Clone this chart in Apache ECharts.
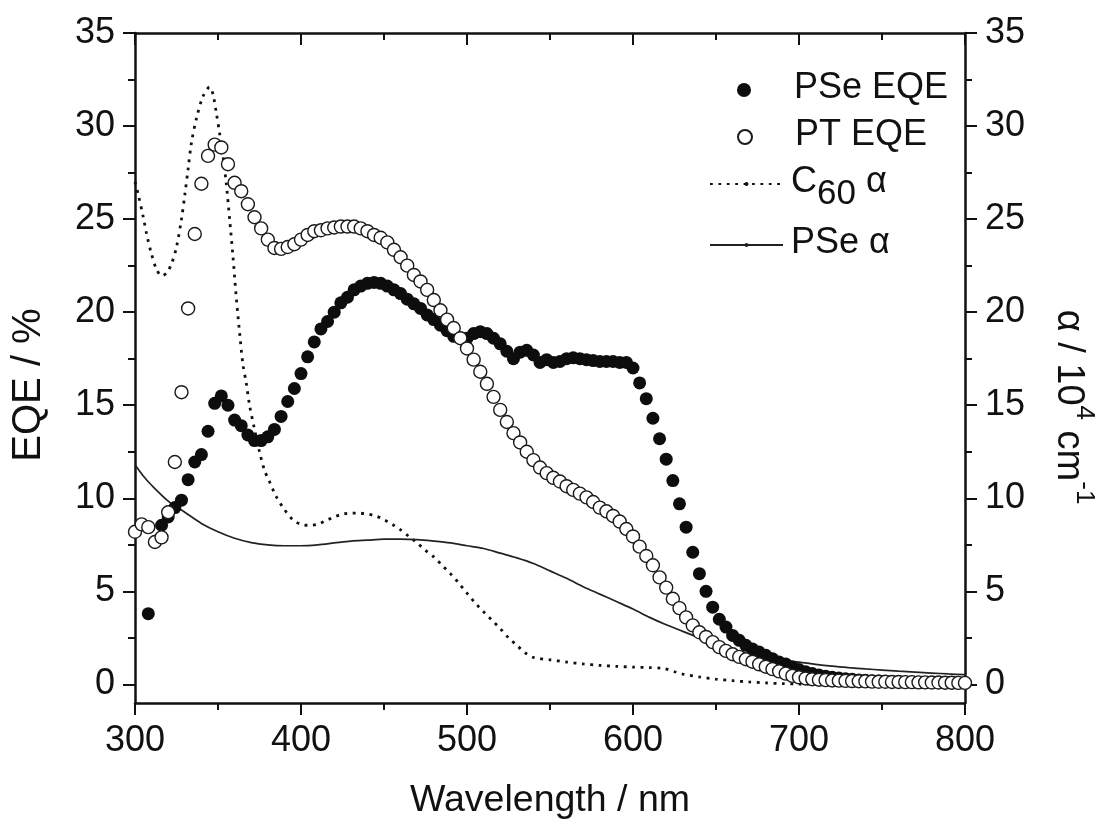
<!DOCTYPE html>
<html>
<head>
<meta charset="utf-8">
<script src="https://cdn.jsdelivr.net/npm/echarts@6/dist/echarts.min.js"></script>
<style>
  html, body { margin: 0; padding: 0; background: #fff; }
  #main { width: 1103px; height: 827px; }
</style>
</head>
<body>
<div id="main"></div>
<script>
// EQE data, filled circles (PSe)
var pseWl = [308,316,320,324,328,332,336,340,344,348,352,356,360,364,368,372,376,380,384,388,392,396,400,404,408,412,416,420,424,428,432,436,440,444,448,452,456,460,464,468,472,476,480,484,488,492,496,500,504,508,512,516,520,524,528,532,536,540,544,548,552,556,560,564,568,572,576,580,584,588,592,596,600,604,608,612,616,620,624,628,632,636,640,644,648,652,656,660,664,668,672,676,680,684,688,692,696,700,704,708,712,716,720,724,728,732,736,740,744,748,752,756,760,764,768,772,776,780,784,788,792,796,800];
var pseEqe = [3.8,8.55,9.0,9.5,9.9,11.0,11.95,12.35,13.6,15.1,15.5,15.0,14.2,13.9,13.4,13.1,13.1,13.3,13.7,14.4,15.2,15.9,16.7,17.6,18.4,19.1,19.5,20.0,20.5,20.8,21.2,21.4,21.55,21.6,21.55,21.4,21.2,21.0,20.7,20.45,20.2,19.85,19.6,19.3,19.0,18.7,18.6,18.6,18.85,18.95,18.85,18.6,18.3,17.9,17.5,17.85,17.95,17.7,17.3,17.45,17.3,17.35,17.5,17.55,17.5,17.45,17.4,17.35,17.35,17.35,17.3,17.3,17.0,16.2,15.35,14.3,13.2,12.1,10.95,9.7,8.45,7.1,5.95,5.0,4.15,3.5,3.08,2.63,2.37,2.1,1.9,1.74,1.56,1.38,1.2,1.1,0.93,0.8,0.68,0.58,0.5,0.44,0.38,0.34,0.3,0.27,0.24,0.22,0.2,0.18,0.16,0.15,0.14,0.13,0.12,0.11,0.1,0.1,0.09,0.09,0.08,0.08,0.07];

// EQE data, open circles (PT)
var ptWl = [300,304,308,312,316,320,324,328,332,336,340,344,348,352,356,360,364,368,372,376,380,384,388,392,396,400,404,408,412,416,420,424,428,432,436,440,444,448,452,456,460,464,468,472,476,480,484,488,492,496,500,504,508,512,516,520,524,528,532,536,540,544,548,552,556,560,564,568,572,576,580,584,588,592,596,600,604,608,612,616,620,624,628,632,636,640,644,648,652,656,660,664,668,672,676,680,684,688,692,696,700,704,708,712,716,720,724,728,732,736,740,744,748,752,756,760,764,768,772,776,780,784,788,792,796,800];
var ptEqe = [8.2,8.6,8.45,7.65,7.9,9.25,11.95,15.7,20.2,24.2,26.9,28.4,29.0,28.85,27.95,26.95,26.5,25.8,25.1,24.5,23.9,23.45,23.4,23.5,23.65,23.9,24.15,24.35,24.4,24.5,24.55,24.6,24.6,24.6,24.5,24.35,24.15,24.0,23.75,23.35,22.95,22.5,22.0,21.65,21.2,20.65,20.1,19.6,19.15,18.6,18.05,17.45,16.8,16.15,15.45,14.75,14.1,13.5,13.0,12.5,12.05,11.65,11.35,11.1,10.9,10.65,10.45,10.25,10.05,9.8,9.5,9.3,9.05,8.75,8.35,7.95,7.4,6.9,6.4,5.75,5.2,4.6,4.1,3.6,3.17,2.8,2.55,2.27,2.0,1.8,1.62,1.48,1.35,1.22,1.08,0.95,0.82,0.7,0.58,0.46,0.38,0.32,0.28,0.25,0.23,0.21,0.2,0.19,0.18,0.17,0.16,0.15,0.14,0.14,0.13,0.13,0.12,0.12,0.11,0.11,0.1,0.1,0.09,0.09,0.08,0.08];

// absorption coefficient, C60 (dotted line)
var c60Wl = [300,302,305,307,310,313,316,319,322,325,328,330,332,334,337,341,345,347,349,351,353,355,357,359,361,363,365,367,369,372,375,378,381,385,390,395,400,405,410,415,420,425,430,435,440,445,450,455,460,465,470,475,480,485,490,495,500,505,510,515,520,525,530,535,540,550,560,570,580,590,600,610,618,625,630,640,650,660,670,680,690,700,750,800];
var c60Alpha = [27.0,26.3,25.1,24.2,23.1,22.3,21.95,22.1,22.6,23.5,25.0,26.3,27.7,29.1,30.4,31.6,32.1,31.7,30.7,29.6,28.4,26.9,25.0,23.0,20.8,18.9,17.2,16.2,15.0,13.7,12.5,11.5,10.9,10.1,9.4,8.85,8.6,8.55,8.6,8.8,9.0,9.15,9.2,9.2,9.15,9.05,8.85,8.6,8.3,7.95,7.6,7.2,6.85,6.4,5.95,5.45,4.9,4.37,3.9,3.45,3.0,2.5,2.1,1.7,1.45,1.32,1.2,1.1,1.02,0.97,0.93,0.9,0.86,0.68,0.55,0.4,0.28,0.2,0.13,0.08,0.04,0.02,0.0,0.0];

// absorption coefficient, PSe (solid line)
var pseAWl = [300,305,310,320,330,340,350,360,370,380,390,400,410,420,430,440,450,460,470,480,490,500,510,520,530,540,550,560,570,580,590,600,610,620,630,640,650,660,670,680,690,700,710,720,730,740,750,760,770,780,790,800];
var pseAlpha = [11.8,11.2,10.7,9.85,9.25,8.65,8.2,7.85,7.62,7.5,7.45,7.45,7.5,7.6,7.7,7.75,7.8,7.8,7.78,7.7,7.6,7.45,7.3,7.05,6.8,6.5,6.1,5.7,5.25,4.85,4.45,4.05,3.6,3.2,2.85,2.5,2.15,1.85,1.6,1.45,1.3,1.2,1.08,0.98,0.9,0.83,0.77,0.71,0.66,0.61,0.56,0.52];

var majorY = [0, 5, 10, 15, 20, 25, 30, 35];
var minorY = [2.5, 7.5, 12.5, 17.5, 22.5, 27.5, 32.5];

function pairs(xs, ys) {
  var out = [];
  for (var i = 0; i < xs.length; i++) out.push([xs[i], ys[i]]);
  return out;
}

var font = "'Liberation Sans', Arial, sans-serif";
var ink = '#111';

var chart = echarts.init(document.getElementById('main'));

function xAxisCfg(pos) {
  var top = pos === 'top';
  return {
    type: 'value', position: pos, min: 300, max: 800, interval: 100,
    axisLine: { onZero: false, lineStyle: { color: ink, width: 2.5 } },
    axisTick: { inside: top, length: 12, lineStyle: { color: ink, width: 2 } },
    minorTick: { show: true, splitNumber: 2, length: 7, lineStyle: { color: ink, width: 2 } },
    axisLabel: { show: !top, fontSize: 36, fontFamily: font, color: ink, margin: 20 },
    splitLine: { show: false }, minorSplitLine: { show: false },
    name: top ? '' : 'Wavelength / nm',
    nameLocation: 'middle', nameGap: 79,
    nameTextStyle: { fontSize: 37.5, fontFamily: font, color: ink }
  };
}

function yAxisCfg(pos, minor, name) {
  var left = pos === 'left';
  return {
    type: 'value', position: pos, min: -1, max: 35,
    axisLine: { show: !minor, onZero: false, lineStyle: { color: ink, width: 2.5 } },
    axisTick: { customValues: minor ? minorY : majorY, length: minor ? 7 : 12, lineStyle: { color: ink, width: 2 } },
    axisLabel: { show: !minor, customValues: majorY, fontSize: 36, fontFamily: font, color: ink, margin: 20 },
    splitLine: { show: false },
    name: name || '', nameLocation: 'middle',
    nameGap: left ? 86 : 84,
    nameRotate: left ? 90 : -90,
    nameTextStyle: {
      fontSize: 40, fontFamily: font, color: ink,
      padding: left ? [0, 34, 0, 0] : [0, 0, 0, 78],
      rich: {
        a: { fontSize: 38, fontFamily: font, color: ink, lineHeight: 48, verticalAlign: 'bottom' },
        s: { fontSize: 26, fontFamily: font, color: ink, lineHeight: 48, verticalAlign: 'top' }
      }
    }
  };
}

function legendCfg(name, top, isLine) {
  return {
    data: [name], left: isLine ? 704 : 732, top: top, orient: 'vertical',
    itemWidth: isLine ? 73 : 14, itemHeight: isLine ? 5 : 14, selectedMode: false,
    formatter: function (n) {
      var gap = '{g|}';
      if (n === 'C60 α') return gap + '{t|C}{sub|60}{t| α}';
      return gap + '{t|' + n + '}';
    },
    textStyle: {
      fontFamily: font, color: ink, fontSize: 36,
      rich: {
        g: { width: isLine ? 3 : 38, height: 10 },
        t: { fontSize: 36, fontFamily: font, color: ink, lineHeight: 40, verticalAlign: 'top' },
        sub: { fontSize: 35, fontFamily: font, color: ink, lineHeight: 40, verticalAlign: 'top', padding: [13, 0, 0, 0] }
      }
    }
  };
}

var option = {
  backgroundColor: '#fff',
  animation: false,
  grid: { left: 135, right: 138, top: 33, bottom: 124, outerBoundsMode: 'none', containLabel: false },
  legend: [
    legendCfg('PSe EQE', 65, false),
    legendCfg('PT EQE', 112, false),
    legendCfg('C60 α', 159, true),
    legendCfg('PSe α', 220, true)
  ],
  xAxis: [xAxisCfg('bottom'), xAxisCfg('top')],
  yAxis: [
    yAxisCfg('left', false, 'EQE / %'),
    yAxisCfg('left', true),
    yAxisCfg('right', false, '{a|α / 10}{s|4}{a| cm}{s|-1}'),
    yAxisCfg('right', true)
  ],
  series: [
    {
      name: 'C60 α', type: 'line', xAxisIndex: 0, yAxisIndex: 0,
      data: pairs(c60Wl, c60Alpha), smooth: 0.3, symbol: 'none',
      lineStyle: { color: ink, width: 2.8, type: [2.8, 5.6], cap: 'butt' },
      itemStyle: { color: ink }, z: 2
    },
    {
      name: 'PSe α', type: 'line', xAxisIndex: 0, yAxisIndex: 0,
      data: pairs(pseAWl, pseAlpha), smooth: 0.3, symbol: 'none',
      lineStyle: { color: '#222', width: 1.7 },
      itemStyle: { color: '#222' }, z: 2
    },
    {
      name: 'PSe EQE', type: 'scatter', xAxisIndex: 0, yAxisIndex: 0,
      data: pairs(pseWl, pseEqe), symbol: 'circle', symbolSize: 13,
      itemStyle: { color: '#0d0d0d', opacity: 1 }, z: 3
    },
    {
      name: 'PT EQE', type: 'scatter', xAxisIndex: 0, yAxisIndex: 0,
      data: pairs(ptWl, ptEqe), symbol: 'circle', symbolSize: 13,
      itemStyle: { color: '#fff', borderColor: '#1a1a1a', borderWidth: 1.4, opacity: 1 }, z: 4
    }
  ]
};

chart.setOption(option);
</script>
</body>
</html>
